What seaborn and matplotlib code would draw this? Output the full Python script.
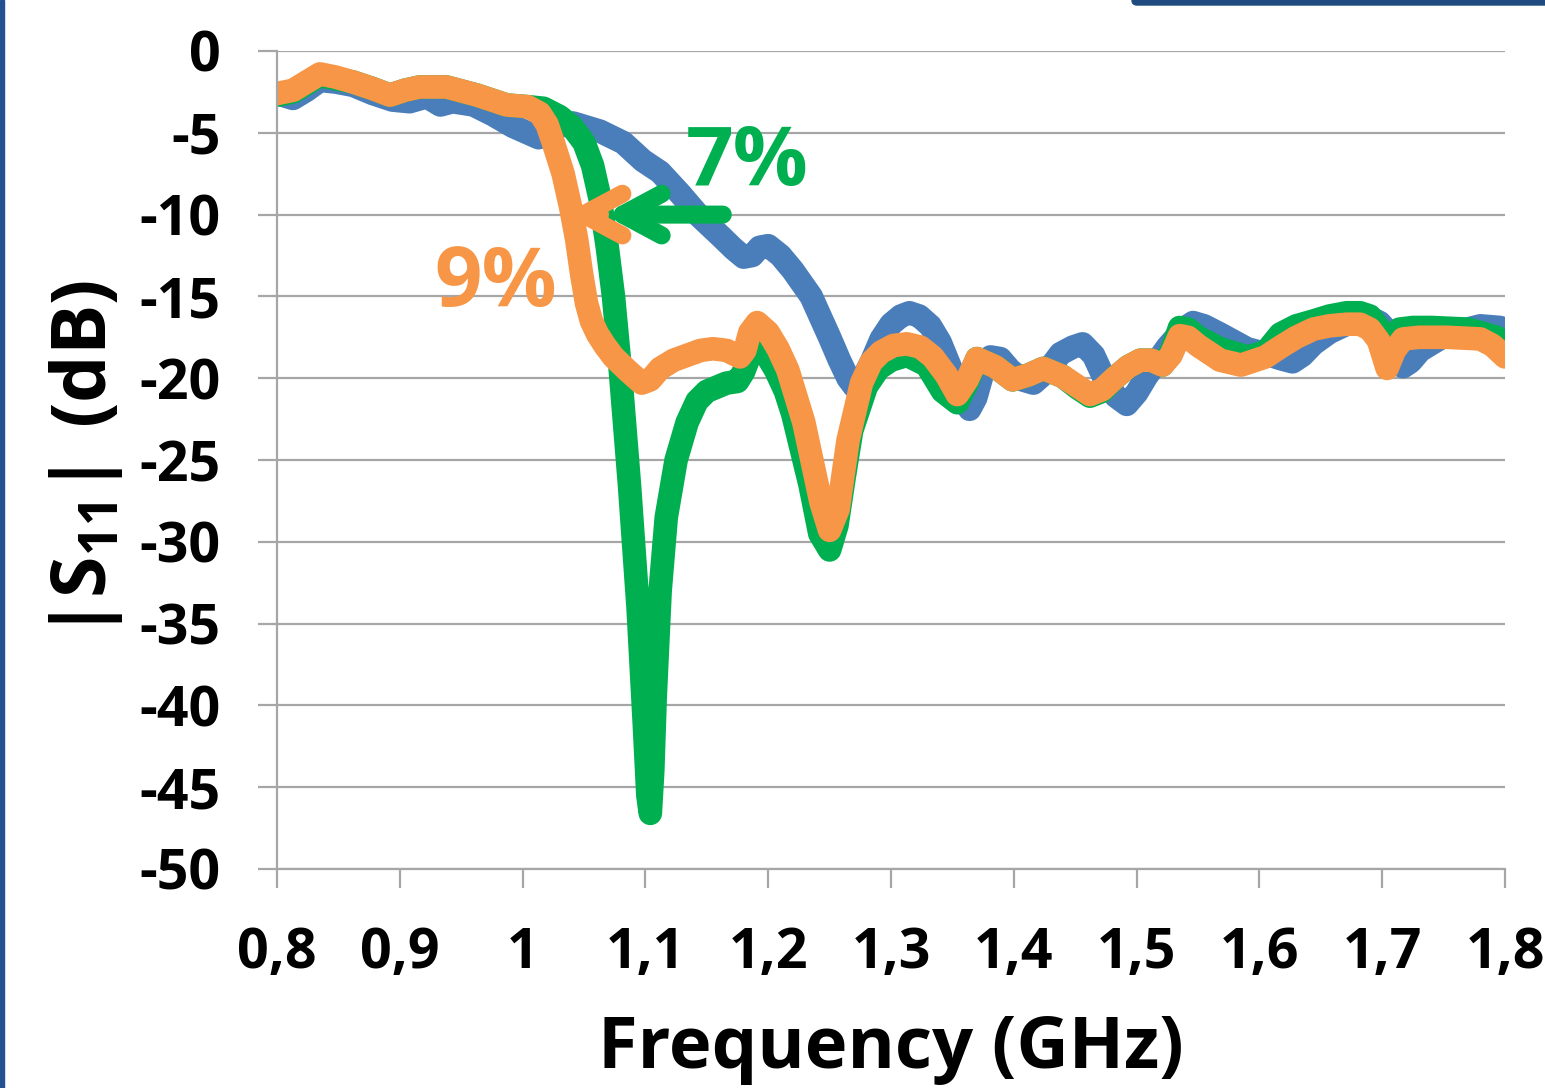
import numpy as np
import pandas as pd
import matplotlib
matplotlib.use("Agg")
import matplotlib.pyplot as plt
import seaborn as sns
from matplotlib.patches import Rectangle, FancyBboxPatch

# ---------------- data ----------------
freq_blue = [0.800, 0.813, 0.824, 0.835, 0.848, 0.862, 0.878, 0.894, 0.908, 0.922,
             0.933, 0.943, 0.960, 0.976, 0.992, 1.004, 1.013, 1.025, 1.041, 1.063,
             1.082, 1.098, 1.112, 1.128, 1.144, 1.161, 1.172, 1.180, 1.187, 1.193,
             1.200, 1.210, 1.220, 1.235, 1.250, 1.258, 1.265, 1.270, 1.276, 1.284,
             1.292, 1.300, 1.308, 1.315, 1.323, 1.332, 1.340, 1.352, 1.360, 1.364,
             1.369, 1.375, 1.381, 1.389, 1.397, 1.407, 1.416, 1.428, 1.438, 1.448,
             1.456, 1.465, 1.473, 1.483, 1.492, 1.500, 1.508, 1.525, 1.538, 1.546,
             1.555, 1.568, 1.590, 1.605, 1.617, 1.627, 1.635, 1.644, 1.657, 1.671,
             1.682, 1.690, 1.698, 1.704, 1.711, 1.717, 1.723, 1.731, 1.753, 1.780,
             1.796, 1.800]
s11_blue = [-2.6, -2.9, -2.4, -1.8, -1.9, -2.1, -2.6, -3.0, -3.1, -2.8,
            -3.3, -3.1, -3.3, -3.9, -4.6, -5.0, -5.3, -4.7, -4.4, -4.9,
            -5.6, -6.7, -7.4, -8.7, -10.1, -11.3, -12.1, -12.6, -12.5, -12.0,
            -11.9, -12.5, -13.4, -15.0, -17.5, -18.9, -20.0, -20.5, -20.2, -19.0,
            -17.6, -16.7, -16.2, -16.0, -16.2, -16.8, -17.8, -20.0, -21.4, -21.9,
            -21.2, -19.6, -18.7, -18.8, -19.5, -20.1, -20.3, -19.5, -18.5, -18.1,
            -17.9, -18.6, -19.9, -21.1, -21.6, -20.9, -19.9, -18.1, -17.0, -16.6,
            -16.8, -17.3, -18.2, -18.5, -18.8, -19.0, -18.6, -17.9, -17.2, -16.7,
            -16.4, -16.3, -16.6, -17.1, -18.4, -19.3, -19.0, -18.3, -17.3, -16.8,
            -16.9, -17.3]

freq_green = [0.800, 0.813, 0.824, 0.835, 0.848, 0.862, 0.878, 0.892, 0.904, 0.916,
              0.938, 0.963, 0.987, 1.004, 1.017, 1.030, 1.040, 1.050, 1.057, 1.063,
              1.069, 1.074, 1.079, 1.087, 1.094, 1.099, 1.102, 1.104, 1.106, 1.108,
              1.112, 1.117, 1.125, 1.134, 1.142, 1.150, 1.166, 1.175, 1.180, 1.185,
              1.191, 1.198, 1.206, 1.214, 1.220, 1.234, 1.242, 1.250, 1.256, 1.262,
              1.268, 1.280, 1.290, 1.300, 1.313, 1.329, 1.342, 1.354, 1.362, 1.370,
              1.385, 1.399, 1.412, 1.424, 1.440, 1.452, 1.462, 1.472, 1.482, 1.493,
              1.503, 1.512, 1.521, 1.528, 1.535, 1.542, 1.550, 1.568, 1.590, 1.605,
              1.617, 1.630, 1.644, 1.657, 1.671, 1.682, 1.690, 1.697, 1.702, 1.708,
              1.714, 1.725, 1.740, 1.770, 1.793, 1.800]
s11_green = [-2.7, -2.5, -2.0, -1.5, -1.7, -1.9, -2.3, -2.7, -2.4, -2.2,
             -2.2, -2.7, -3.3, -3.4, -3.5, -4.0, -4.6, -5.6, -7.0, -9.0,
             -12.0, -15.0, -19.0, -26.5, -34.0, -41.0, -45.5, -46.6, -44.0, -39.5,
             -33.0, -28.5, -25.0, -22.7, -21.4, -20.8, -20.3, -20.2, -19.6, -18.6,
             -18.2, -18.5, -19.5, -20.8, -22.2, -26.5, -29.5, -30.5, -29.0, -26.0,
             -23.2, -20.5, -19.4, -18.9, -18.6, -19.2, -20.8, -21.5, -20.3, -18.8,
             -19.3, -20.1, -19.8, -19.4, -19.9, -20.6, -21.1, -20.8, -20.0, -19.3,
             -18.9, -18.9, -19.2, -18.4, -16.9, -17.0, -17.5, -18.2, -18.7, -18.4,
             -17.3, -16.8, -16.5, -16.2, -16.0, -16.0, -16.2, -16.9, -18.1, -17.6,
             -17.0, -16.9, -16.9, -17.0, -17.5, -18.0]

freq_orange = [0.800, 0.813, 0.824, 0.835, 0.848, 0.862, 0.878, 0.892, 0.904, 0.916,
               0.938, 0.963, 0.987, 1.004, 1.014, 1.020, 1.025, 1.033, 1.039, 1.044,
               1.048, 1.052, 1.056, 1.061, 1.067, 1.074, 1.085, 1.097, 1.104, 1.112,
               1.123, 1.134, 1.145, 1.155, 1.166, 1.177, 1.181, 1.185, 1.191, 1.200,
               1.208, 1.216, 1.229, 1.243, 1.250, 1.257, 1.265, 1.276, 1.284, 1.292,
               1.302, 1.313, 1.324, 1.334, 1.345, 1.354, 1.362, 1.370, 1.385, 1.399,
               1.412, 1.424, 1.440, 1.452, 1.462, 1.472, 1.482, 1.493, 1.503, 1.512,
               1.521, 1.528, 1.535, 1.542, 1.550, 1.568, 1.585, 1.605, 1.617, 1.630,
               1.644, 1.657, 1.671, 1.682, 1.690, 1.697, 1.704, 1.710, 1.717, 1.730,
               1.753, 1.780, 1.790, 1.800]
s11_orange = [-2.6, -2.4, -1.9, -1.4, -1.6, -1.9, -2.3, -2.7, -2.4, -2.2,
              -2.2, -2.7, -3.3, -3.4, -3.8, -4.5, -5.6, -7.5, -9.5, -11.5,
              -13.6, -15.4, -16.5, -17.3, -18.0, -18.7, -19.5, -20.3, -20.1, -19.4,
              -18.9, -18.6, -18.3, -18.2, -18.3, -18.7, -18.3, -17.2, -16.6, -17.2,
              -18.2, -19.5, -22.7, -27.6, -29.3, -28.0, -23.8, -20.3, -19.0, -18.4,
              -18.0, -17.9, -18.1, -18.7, -19.8, -21.0, -20.1, -18.8, -19.3, -20.1,
              -19.8, -19.4, -19.9, -20.5, -21.0, -20.7, -20.0, -19.3, -18.9, -18.9,
              -19.2, -18.6, -17.4, -17.5, -18.0, -18.9, -19.2, -18.7, -18.1, -17.5,
              -17.0, -16.8, -16.7, -16.7, -17.0, -17.7, -19.4, -18.3, -17.6, -17.5,
              -17.5, -17.6, -18.0, -18.7]

series_names = ["blue", "green", "orange"]
series_colors = ["#4A7EBB", "#00B050", "#F79646"]
series_freqs = [freq_blue, freq_green, freq_orange]
series_vals = [s11_blue, s11_green, s11_orange]

x_ticks = [0.8, 0.9, 1.0, 1.1, 1.2, 1.3, 1.4, 1.5, 1.6, 1.7, 1.8]
x_tick_labels = ["0,8", "0,9", "1", "1,1", "1,2", "1,3", "1,4", "1,5", "1,6", "1,7", "1,8"]
y_ticks = [0, -5, -10, -15, -20, -25, -30, -35, -40, -45, -50]
y_tick_labels = ["0", "-5", "-10", "-15", "-20", "-25", "-30", "-35", "-40", "-45", "-50"]

x_label = "Frequency (GHz)"
y_label = r"$\mathbf{|S_{11}|\ (dB)}$"
label_7 = "7%"
label_9 = "9%"
pos_7 = (1.183, -6.9)
pos_9 = (0.978, -14.3)
arrow_green = ((1.163, -10.0), (1.066, -10.0))   # (tail, tip)
arrow_orange = ((1.063, -10.0), (1.034, -10.0))

# ---------------- styling ----------------
sns.set_theme(style="white")
plt.rcParams["font.family"] = ["Open Sans", "DejaVu Sans"]
plt.rcParams["font.weight"] = "bold"
plt.rcParams["mathtext.fontset"] = "custom"
plt.rcParams["mathtext.rm"] = "Open Sans:bold"
plt.rcParams["mathtext.bf"] = "Open Sans:bold"
plt.rcParams["mathtext.it"] = "Open Sans:bold"

W, H = 1545, 1088
fig = plt.figure(figsize=(W / 100, H / 100), dpi=100)
ax = fig.add_axes([277 / W, 1 - 869 / H, 1228 / W, 818 / H])

LW = 17
for name, fx, fy, col in zip(series_names, series_freqs, series_vals, series_colors):
    d = pd.DataFrame({"freq": fx, "s11": fy})
    sns.lineplot(data=d, x="freq", y="s11", color=col, linewidth=LW, ax=ax,
                 estimator=None, sort=False, legend=False)
for ln in ax.get_lines():
    ln.set_linewidth(LW)
    ln.set_solid_capstyle("round")
    ln.set_solid_joinstyle("round")

ax.set_xlim(0.8, 1.8)
ax.set_ylim(-50, 0)
ax.set_xticks(x_ticks)
ax.set_xticklabels(x_tick_labels)
ax.set_yticks(y_ticks)
ax.set_yticklabels(y_tick_labels)

grid_col = "#A6A6A6"
ax.set_axisbelow(True)
ax.yaxis.grid(True, color=grid_col, linewidth=1.6)
ax.xaxis.grid(False)
for s in ["top", "right"]:
    ax.spines[s].set_visible(False)
for s in ["left", "bottom"]:
    ax.spines[s].set_color(grid_col)
    ax.spines[s].set_linewidth(1.6)

ax.tick_params(axis="both", which="major", direction="out", length=13.7,
               width=1.6, color=grid_col, labelsize=40, labelcolor="black")
ax.tick_params(axis="x", pad=27, bottom=True)
ax.tick_params(axis="y", pad=27, left=True)
for lab in ax.get_xticklabels() + ax.get_yticklabels():
    lab.set_fontweight("bold")

ax.set_xlabel(x_label, fontsize=52, fontweight="bold", color="black")
ax.xaxis.label.set_va("baseline")
ax.xaxis.set_label_coords(0.5, -(1068 - 869) / 818)
ax.set_ylabel(y_label, fontsize=54, color="black")
ax.yaxis.label.set_va("baseline")
ax.yaxis.set_label_coords(-(277 - 106) / 1228, 0.5)

# annotations
ax.text(pos_7[0], pos_7[1], label_7, color=series_colors[1], fontsize=60,
        fontweight="bold", ha="center", va="center")
ax.text(pos_9[0], pos_9[1], label_9, color=series_colors[2], fontsize=60,
        fontweight="bold", ha="center", va="center")
for (tail, tip), col in [(arrow_green, series_colors[1]), (arrow_orange, series_colors[2])]:
    ax.annotate("", xy=tip, xytext=tail,
                arrowprops=dict(arrowstyle="->,head_length=2.8,head_width=1.5",
                                mutation_scale=10, color=col, lw=13,
                                shrinkA=0, shrinkB=0, capstyle="round",
                                joinstyle="round"))

# slide decorations
deco = "#25508F"
fig.patches.append(Rectangle((0, 0), 4 / W, 1, transform=fig.transFigure,
                             color=deco, zorder=10))
fig.patches.append(FancyBboxPatch((11.32, 10.83), 4.3, 0.4,
                                  boxstyle="round,pad=0,rounding_size=0.05",
                                  transform=fig.dpi_scale_trans, color="#1F4A7F",
                                  zorder=10))

fig.savefig("out.png", dpi=100)
